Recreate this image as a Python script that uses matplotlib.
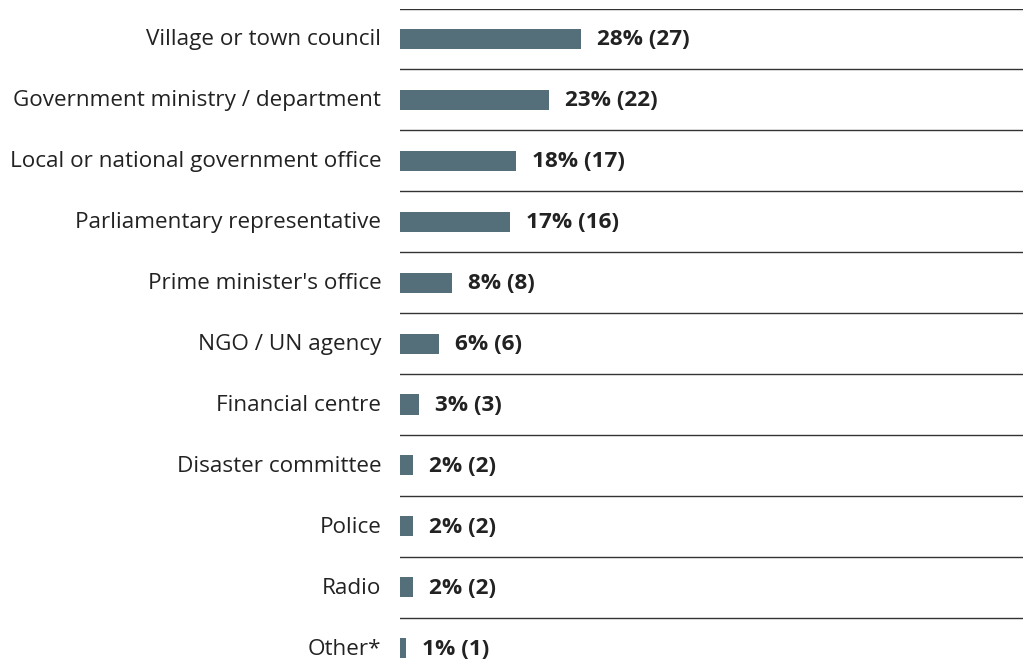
import matplotlib
matplotlib.use("Agg")
import matplotlib.pyplot as plt

categories = [
    "Village or town council",
    "Government ministry / department",
    "Local or national government office",
    "Parliamentary representative",
    "Prime minister's office",
    "NGO / UN agency",
    "Financial centre",
    "Disaster committee",
    "Police",
    "Radio",
    "Other*",
]
percents = [28, 23, 18, 17, 8, 6, 3, 2, 2, 2, 1]
counts = [27, 22, 17, 16, 8, 6, 3, 2, 2, 2, 1]

plt.rcParams["font.family"] = ["Open Sans", "DejaVu Sans"]

W, H = 1023, 661
fig = plt.figure(figsize=(W / 100, H / 100), dpi=100)
top_px, left_px = 8.5, 400
ax = fig.add_axes([left_px / W, 0, 1 - left_px / W, 1 - top_px / H])

bar_color = "#546e7a"
text_color = "#222222"
ys = list(range(len(categories)))
ax.barh(ys, percents, height=0.33, color=bar_color, left=0)

for y, cat, p, c in zip(ys, categories, percents, counts):
    ax.axhline(y - 0.5, color="#333333", lw=1.0, xmin=0, xmax=1)
    ax.annotate(cat, xy=(0, y), xycoords=("data", "data"), xytext=(-13.5, 1.2),
                textcoords="offset points", ha="right", va="center_baseline",
                fontsize=16.2, color=text_color, annotation_clip=False)
    ax.annotate(f"{p}% ({c})", xy=(p, y), xytext=(11.5, 1.2),
                textcoords="offset points", ha="left", va="center_baseline",
                fontsize=16.2, fontweight="bold", color=text_color,
                annotation_clip=False)

ax.set_xlim(0, 96.4)
ax.set_ylim(10.21, -0.5)
ax.axis("off")

fig.savefig("out.png", dpi=100)
